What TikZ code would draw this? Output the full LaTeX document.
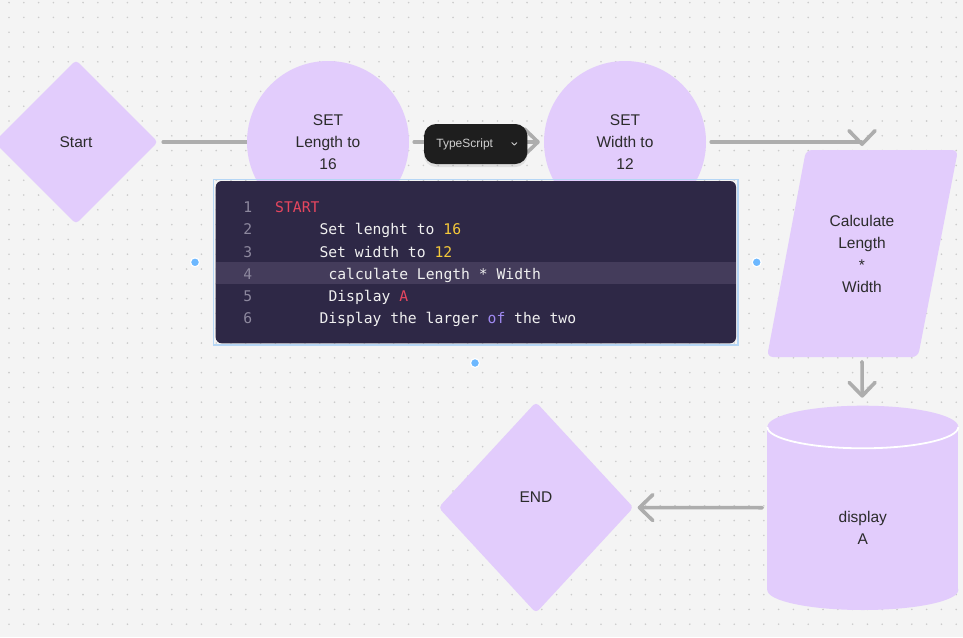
\documentclass[tikz,border=0pt]{standalone}
\usepackage{fontspec}
\setmainfont{Liberation Sans}
\newfontfamily\codefont{DejaVu Sans Mono}
\usetikzlibrary{shapes.geometric,arrows.meta,shadows}
\definecolor{lav}{HTML}{E2CCFC}
\definecolor{bgc}{HTML}{F4F4F4}
\definecolor{dotc}{HTML}{CBCBCB}
\definecolor{linec}{HTML}{ADADAD}
\definecolor{txtc}{HTML}{2B2B2B}
\definecolor{codebg}{HTML}{2E2846}
\definecolor{hlc}{HTML}{443C5B}
\definecolor{selc}{HTML}{B5D6F5}
\definecolor{numc}{HTML}{8D889E}
\definecolor{codew}{HTML}{F0F0F0}
\definecolor{codered}{HTML}{E6465F}
\definecolor{codeyel}{HTML}{F5C93A}
\definecolor{codepur}{HTML}{A08AF2}
\definecolor{handlec}{HTML}{6DB8FF}
\definecolor{badgec}{HTML}{1E1E1E}
\definecolor{badget}{HTML}{CFCFCF}
\pgfdeclarelayer{grid}
\pgfdeclarelayer{bg}
\pgfsetlayers{grid,bg,main}
\begin{document}
\begin{tikzpicture}[x=1pt,y=-1pt,
  txt/.style={text=txtc, font=\fontsize{15.5}{22}\selectfont, align=center, inner sep=0pt},
  dia/.style={diamond, fill=lav, rounded corners=4pt, inner sep=0pt, text=txtc, font=\fontsize{15.5}{22}\selectfont},
  circ/.style={circle, fill=lav, minimum size=162pt, inner sep=0pt, txt},
  conn/.style={draw=linec, line width=3.6pt, line cap=round, line join=round},
  arr/.style={-{Straight Barb[length=13.5pt,width=26pt,line cap=round,line join=round]}},
  codeln/.style={anchor=base west, inner sep=0pt, text=codew, font=\codefont\fontsize{14.7}{18}\selectfont},
  numln/.style={anchor=base, inner sep=0pt, text=numc, font=\codefont\fontsize{14.7}{18}\selectfont},
  handle/.style={fill=handlec, draw=white, line width=1.2pt}
]
\useasboundingbox (0,0) rectangle (963,637);
\begin{pgfonlayer}{grid}
  \fill[bgc] (0,0) rectangle (963,637);
  \foreach \i in {0,...,65}{\foreach \j in {0,...,43}{\fill[dotc] ({9+14.8*\i},{2.6+14.8*\j}) circle (0.9);}}
\end{pgfonlayer}

% shapes
\node[dia, minimum width=164pt, minimum height=164pt] (start) at (76,142) {Start};
\node[circ] (c1) at (328,142) {SET\\Length to\\16};
\node[circ] (c2) at (625,142) {SET\\Width to\\12};

\fill[lav, rounded corners=6pt] (806,150) -- (958,150) -- (918,357) -- (767,357) -- cycle;
\node[txt] (para) at (862,254) {Calculate\\Length\\*\\Width};
\coordinate (paratop) at (862,150);
\coordinate (parabot) at (862,357);

\fill[lav] (767.3,427) rectangle (958.3,590);
\fill[lav] (862.8,590) ellipse [x radius=95.5, y radius=20];
\fill[lav] (862.8,427) ellipse [x radius=95.5, y radius=21.3];
\draw[white, line width=1.8pt] (958.3,427) arc[start angle=0, end angle=180, x radius=95.5, y radius=21.3];
\node[txt] (cyl) at (862.8,527.5) {display\\A};
\coordinate (cyltop) at (862.3,405.7);
\coordinate (cylwest) at (767.3,507.7);

\node[dia, minimum width=195pt, minimum height=211pt] (end) at (536,507.5) {};
\node[txt] (endtxt) at (536,497) {END};

% connectors
\begin{pgfonlayer}{bg}
  \draw[conn, shorten <=5pt] (start) -- (c1);
  \draw[conn, arr, shorten <=5pt, shorten >=4pt] (c1) -- (c2);
  \draw[conn, arr, shorten <=5pt] (c2) -| ([yshift=4pt]paratop);
  \draw[conn, arr, shorten <=4.7pt, shorten >=8pt] (parabot) -- (cyltop);
  \draw[conn, arr, shorten <=5pt, shorten >=4pt] (cylwest) -- (end);
\end{pgfonlayer}

% code block
\draw[selc, line width=1.5pt] (213.3,179.3) rectangle (738.2,345);
\fill[codebg, rounded corners=6pt] (215.7,181) rectangle (736,343.3);
\fill[hlc] (215.7,262.3) rectangle (736,284.3);
\foreach \n [count=\k from 0] in {1,...,6}{
  \node[numln] (num\n) at (247.7,{212.6+22.25*\k}) {\n};
}
\node[codeln] (l1) at (275,212.6) {\textcolor{codered}{START}};
\node[codeln] (l2) at (319.3,234.85) {Set lenght to \textcolor{codeyel}{16}};
\node[codeln] (l3) at (319.3,257.1) {Set width to \textcolor{codeyel}{12}};
\node[codeln] (l4) at (328.3,279.35) {calculate Length * Width};
\node[codeln] (l5) at (328.3,301.6) {Display \textcolor{codered}{A}};
\node[codeln] (l6) at (319.3,323.85) {Display the larger \textcolor{codepur}{of} the two};

\foreach \p in {(195,262.3),(756.7,262.3),(475,363)}{
  \filldraw[handle] \p circle (4.5);
}

% badge
\node[fill=badgec, rounded corners=12pt, minimum width=103.3pt, minimum height=40pt, inner sep=0pt,
      drop shadow={opacity=0.18, shadow xshift=0pt, shadow yshift=-3pt}] (badge) at (475.7,144) {};
\node[inner sep=0pt, text=badget, font=\fontsize{12}{14}\selectfont] (badgetxt) at (464.7,144) {TypeScript};
\draw[badget, line width=0.9pt, line cap=round, line join=round] (511.8,142.6) -- (514.3,145.1) -- (516.8,142.6);
\end{tikzpicture}
\end{document}
